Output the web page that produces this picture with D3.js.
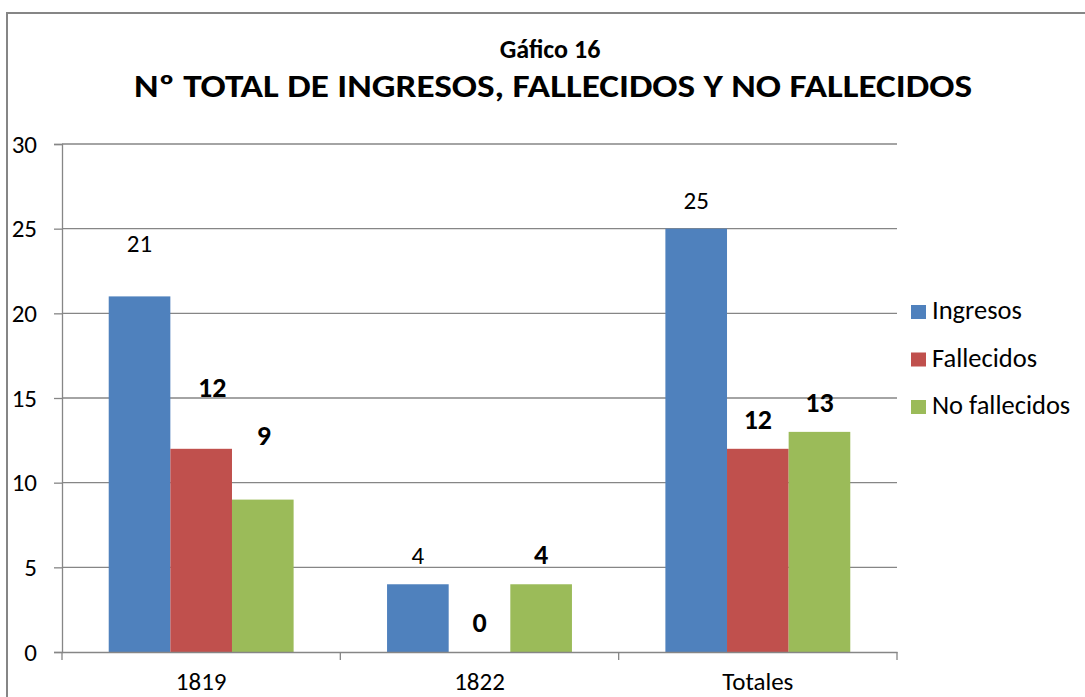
<!DOCTYPE html>
<html><head><meta charset="utf-8">
<script src="https://cdn.jsdelivr.net/npm/d3@7"></script>
<style>body{margin:0;background:#fff}svg{display:block}text{font-family:Carlito,"Liberation Sans",Arial,sans-serif}</style>
</head><body><svg id="c" width="1085" height="697"></svg>
<script>
const categories = ["1819", "1822", "Totales"];
const seriesNames = ["Ingresos", "Fallecidos", "No fallecidos"];
const ingresos = [21, 4, 25];
const fallecidos = [12, 0, 12];
const noFallecidos = [9, 4, 13];
const yTicks = [0, 5, 10, 15, 20, 25, 30];
const colors = ["#4F81BD", "#C0504D", "#9BBB59"];
// extra label lift (px) and x shift, per series per category (manual Excel label placement)
const labelLift = [[24, 0, 0], [32, 0, 0], [35, 0, 0]];
const labelShiftX = [[0, 0, 0], [11, 0, 0], [1, 0, 0]];
const labelBold = [false, true, true];
const FONT = "Carlito,'Liberation Sans',Arial,sans-serif";

const svg = d3.select("#c");
const W = 1085, H = 697;
svg.append("rect").attr("x", 7).attr("y", 13).attr("width", W).attr("height", H)
  .attr("fill", "#fff").attr("stroke", "#868686").attr("stroke-width", 2);

svg.append("text").attr("x", 550).attr("y", 58).attr("text-anchor", "middle")
  .attr("font-weight", "bold").attr("font-size", 26).text("Gáfico 16");
svg.append("text").attr("x", 553).attr("y", 97).attr("text-anchor", "middle")
  .attr("font-weight", "bold").attr("font-size", 32).attr("textLength", 838).attr("lengthAdjust", "spacingAndGlyphs")
  .text("Nº TOTAL DE INGRESOS, FALLECIDOS Y NO FALLECIDOS");

const x0 = 62, x1 = 897, yTop = 144, yBot = 652;
const x = d3.scaleBand().domain(categories).range([x0, x1]).paddingInner(0).paddingOuter(0);
const y = d3.scaleLinear().domain([0, 30]).range([yBot, yTop]);
const xs = d3.scaleBand().domain(seriesNames).range([0, x.bandwidth()]).paddingInner(0).paddingOuter(0.758);

// gridlines
svg.append("g").selectAll("line").data(yTicks.filter(d => d > 0)).enter().append("line")
  .attr("x1", x0).attr("x2", x1).attr("y1", d => y(d)).attr("y2", d => y(d))
  .attr("stroke", "#868686").attr("stroke-width", 1.3);

// y axis
const yAxis = d3.axisLeft(y).tickValues(yTicks).tickSize(8).tickPadding(17);
const ya = svg.append("g").attr("transform", `translate(${x0},0)`).call(yAxis);
ya.select(".domain").attr("stroke", "#868686").attr("stroke-width", 1.3);
ya.selectAll(".tick line").attr("stroke", "#868686").attr("stroke-width", 1.3);
ya.selectAll(".tick text").attr("font-size", 25).attr("fill", "#000").attr("font-family", FONT);

const allSeries = [ingresos, fallecidos, noFallecidos];
allSeries.forEach((vals, si) => {
  svg.append("g").selectAll("rect").data(vals).enter().append("rect")
    .attr("x", (d, i) => x(categories[i]) + xs(seriesNames[si]))
    .attr("width", xs.bandwidth())
    .attr("y", d => y(d)).attr("height", d => yBot - y(d))
    .attr("fill", colors[si]);
});
allSeries.forEach((vals, si) => {
  svg.append("g").selectAll("text").data(vals).enter().append("text")
    .attr("x", (d, i) => x(categories[i]) + xs(seriesNames[si]) + xs.bandwidth() / 2 + labelShiftX[si][i])
    .attr("y", (d, i) => y(d) - 20 - labelLift[si][i])
    .attr("text-anchor", "middle").attr("font-size", labelBold[si] ? 28 : 25)
    .attr("font-weight", labelBold[si] ? "bold" : "normal")
    .text(d => d);
});

// x axis
const xa = svg.append("g").attr("transform", `translate(0,${yBot})`)
  .call(d3.axisBottom(x).tickSize(0));
xa.select(".domain").attr("stroke", "#868686").attr("stroke-width", 1.3);
xa.selectAll(".tick text").attr("font-size", 25).attr("fill", "#000").attr("font-family", FONT)
  .attr("y", 38).attr("dy", 0);
const bounds = [x0].concat(categories.map(c => x(c) + x.bandwidth()));
svg.append("g").selectAll("line").data(bounds).enter().append("line")
  .attr("x1", d => d).attr("x2", d => d).attr("y1", yBot).attr("y2", yBot + 8)
  .attr("stroke", "#868686").attr("stroke-width", 1.3);

// legend
const lg = svg.append("g");
seriesNames.forEach((n, i) => {
  const base = 319 + i * 47.5;
  lg.append("rect").attr("x", 911).attr("y", base - 14).attr("width", 15).attr("height", 14).attr("fill", colors[i]);
  lg.append("text").attr("x", 932).attr("y", base).attr("font-size", 26.5).text(n);
});
</script></body></html>
